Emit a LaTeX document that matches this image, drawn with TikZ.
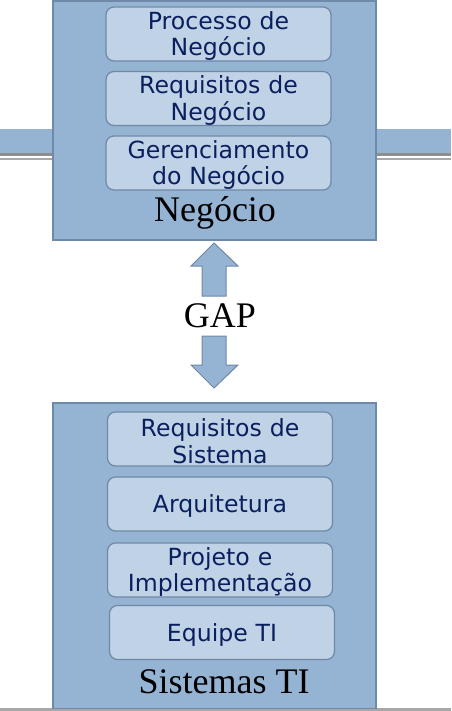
\documentclass[tikz,border=0pt]{standalone}
\usepackage{fontspec}
\setmainfont{Liberation Serif}
\newfontfamily\dvsans{DejaVu Sans}
\definecolor{outerfill}{HTML}{95B3D3}
\definecolor{outerdraw}{HTML}{6F8AA8}
\definecolor{innerfill}{HTML}{C0D3E6}
\definecolor{innerdraw}{HTML}{6F88A6}
\definecolor{navytext}{HTML}{0A1F5E}
\definecolor{bandgray}{HTML}{8E8E8E}
\definecolor{bandgraylight}{HTML}{A8A8A8}
\begin{document}
\begin{tikzpicture}[x=1pt,y=-1pt,
  outerbox/.style={fill=outerfill,draw=outerdraw,line width=1.2pt},
  innerbox/.style={rectangle,rounded corners=8pt,fill=innerfill,draw=innerdraw,line width=1.2pt,
    minimum width=225pt,minimum height=54pt,inner sep=0pt},
  boxtext/.style={inner sep=0pt,text width=225pt,align=center,yshift=-2pt,
    text=navytext,font=\dvsans\fontsize{23.6}{26.7}\selectfont},
  biglabel/.style={anchor=base,inner sep=0pt,font=\fontsize{36}{40}\selectfont,text=black},
  bigarrow/.style={fill=outerfill,draw=innerdraw,line width=1pt,line join=miter}]
\useasboundingbox (0,0) rectangle (451,711);
% side bands
\fill[outerfill] (0,129) rectangle (53,153);
\fill[bandgray] (0,153) rectangle (53,156);
\fill[bandgraylight] (0,158) rectangle (53,160);
\fill[outerfill] (376,129) rectangle (451,153);
\fill[bandgray] (376,153) rectangle (451,156);
\fill[bandgraylight] (376,158) rectangle (451,160);
% bottom line
\fill[bandgraylight] (0,708) rectangle (451,711);
% outer boxes
\draw[outerbox] (53,1) rectangle (376,240);
\draw[outerbox] (53,403) rectangle (376,708.5);
% top inner boxes
\node[innerbox,label={[boxtext]center:{Processo de\\Negócio}}] (proc) at (218.5,34) {};
\node[innerbox,label={[boxtext]center:{Requisitos de\\Negócio}}] (req) at (218.5,98.5) {};
\node[innerbox,label={[boxtext]center:{Gerenciamento\\do Negócio}}] (ger) at (218.5,163) {};
\node[biglabel] (neg) at (215,222) {Negócio};
% arrows
\draw[bigarrow] (214,243) -- (238,266) -- (226,266) -- (226,296) -- (202,296) -- (202,266) -- (191,266) -- cycle;
\node[biglabel] (gap) at (220,327) {GAP};
\draw[bigarrow] (214,388) -- (238,365) -- (226,365) -- (226,336) -- (202,336) -- (202,365) -- (191,365) -- cycle;
% bottom inner boxes
\node[innerbox,label={[boxtext]center:{Requisitos de\\Sistema}}] (reqs) at (220,439) {};
\node[innerbox,label={[boxtext]center:{Arquitetura}}] (arq) at (220,504) {};
\node[innerbox,label={[boxtext]center:{Projeto e\\Implementação}}] (proj) at (220,570) {};
\node[innerbox,label={[boxtext]center:{Equipe TI}}] (equipe) at (222,632.5) {};
\node[biglabel] (sis) at (224,693) {Sistemas TI};
\end{tikzpicture}
\end{document}
